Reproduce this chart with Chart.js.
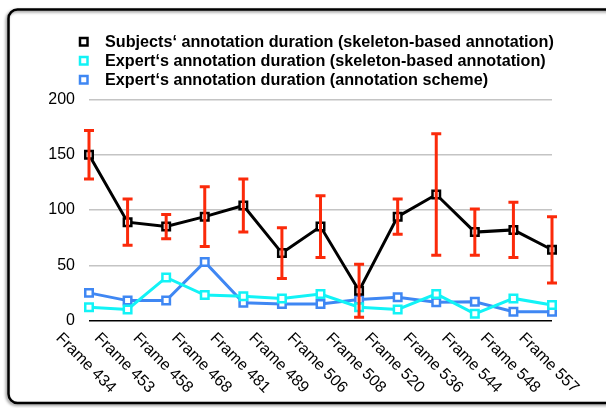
<!DOCTYPE html>
<html>
<head>
<meta charset="utf-8">
<script src="https://cdn.jsdelivr.net/npm/chart.js@4/dist/chart.umd.min.js"></script>
<style>
html,body{margin:0;padding:0;background:#fff;}
#wrap{position:relative;width:606px;height:408px;}
</style>
</head>
<body>
<div id="wrap"><canvas id="c" width="606" height="408"></canvas></div>
<script>
const categories = ["Frame 434","Frame 453","Frame 458","Frame 468","Frame 481","Frame 489","Frame 506","Frame 508","Frame 520","Frame 536","Frame 544","Frame 548","Frame 557"];
const subjectsDuration = [150, 89, 85, 94, 104, 61, 85, 27, 94, 114, 80, 82, 64];
const subjectsSd = [22, 21, 11, 27, 24, 23, 28, 24, 16, 55, 21, 25, 30];
const expertSkeleton = [12, 10, 39, 23, 22, 20, 24, 12, 10, 24, 6, 20, 14];
const expertScheme = [25, 18, 18, 53, 16, 15, 15, 19, 21, 16.5, 17, 8, 8];
const yTicks = [0, 50, 100, 150, 200];
const seriesNames = [
  "Subjects\u2018 annotation duration (skeleton-based annotation)",
  "Expert\u2018s annotation duration (skeleton-based annotation)",
  "Expert\u2018s annotation duration (annotation scheme)"
];

const FONT = "'Liberation Sans', Arial, Helvetica, sans-serif";

const framePlugin = {
  id: 'frame',
  beforeDraw(chart) {
    const ctx = chart.ctx;
    ctx.save();
    ctx.fillStyle = '#fff';
    ctx.fillRect(0, 0, chart.width, chart.height);
    ctx.shadowColor = 'rgba(0,0,0,0.45)';
    ctx.shadowBlur = 3;
    ctx.shadowOffsetX = -1.5;
    ctx.shadowOffsetY = 1.5;
    ctx.lineWidth = 2.5;
    ctx.strokeStyle = '#000';
    ctx.beginPath();
    ctx.roundRect(8.5, 9.5, 700, 393.5, 9);
    ctx.stroke();
    ctx.restore();
  }
};

const errorBarPlugin = {
  id: 'errbars',
  afterDatasetsDraw(chart) {
    const ctx = chart.ctx;
    const x = chart.scales.x, y = chart.scales.y;
    ctx.save();
    ctx.strokeStyle = '#fb2a0a';
    ctx.lineWidth = 3;
    subjectsDuration.forEach((v, i) => {
      const px = x.getPixelForValue(i);
      const top = y.getPixelForValue(v + subjectsSd[i]);
      const bot = y.getPixelForValue(v - subjectsSd[i]);
      ctx.beginPath();
      ctx.moveTo(px, top); ctx.lineTo(px, bot);
      ctx.moveTo(px - 5, top); ctx.lineTo(px + 5, top);
      ctx.moveTo(px - 5, bot); ctx.lineTo(px + 5, bot);
      ctx.stroke();
    });
    ctx.restore();
  }
};

const labelsPlugin = {
  id: 'xlabels',
  afterDraw(chart) {
    const ctx = chart.ctx;
    const x = chart.scales.x;
    ctx.save();
    ctx.fillStyle = '#000';
    ctx.font = '16px ' + FONT;
    ctx.textAlign = 'left';
    ctx.textBaseline = 'top';
    categories.forEach((lab, i) => {
      const px = x.getPixelForValue(i);
      ctx.save();
      ctx.translate(px - 25, 330);
      ctx.rotate(Math.PI / 4);
      ctx.fillText(lab, 0, 0);
      ctx.restore();
    });
    ctx.restore();
  }
};

const legendPlugin = {
  id: 'customLegend',
  afterDraw(chart) {
    const ctx = chart.ctx;
    ctx.save();
    ctx.font = 'bold 16.2px ' + FONT;
    ctx.textBaseline = 'middle';
    ctx.textAlign = 'left';
    chart.data.datasets.forEach((ds, i) => {
      const cy = 41.5 + i * 19;
      ctx.lineWidth = 2.5;
      ctx.strokeStyle = ds.borderColor;
      ctx.fillStyle = '#fff';
      ctx.beginPath();
      ctx.rect(80, cy - 3.5, 7.5, 7.5);
      ctx.fill();
      ctx.stroke();
      ctx.fillStyle = '#000';
      ctx.fillText(ds.label, 105, cy + 1);
    });
    ctx.restore();
  }
};

new Chart(document.getElementById('c'), {
  type: 'line',
  data: {
    labels: categories,
    datasets: [
      {
        label: seriesNames[0],
        data: subjectsDuration,
        borderColor: '#000000',
        backgroundColor: '#ffffff',
        borderWidth: 3,
        pointStyle: 'rect',
        pointRadius: 5.3,
        pointBorderWidth: 2.5,
        pointBackgroundColor: '#ffffff',
        pointBorderColor: '#000000',
        tension: 0
      },
      {
        label: seriesNames[1],
        data: expertSkeleton,
        borderColor: '#12f3f6',
        backgroundColor: '#ffffff',
        borderWidth: 3,
        pointStyle: 'rect',
        pointRadius: 5.3,
        pointBorderWidth: 2.5,
        pointBackgroundColor: '#ffffff',
        pointBorderColor: '#12f3f6',
        tension: 0
      },
      {
        label: seriesNames[2],
        data: expertScheme,
        borderColor: '#3f87f3',
        backgroundColor: '#ffffff',
        borderWidth: 3,
        pointStyle: 'rect',
        pointRadius: 5.3,
        pointBorderWidth: 2.5,
        pointBackgroundColor: '#ffffff',
        pointBorderColor: '#3f87f3',
        tension: 0
      }
    ]
  },
  options: {
    responsive: false,
    animation: false,
    devicePixelRatio: 1,
    layout: { padding: { left: 0, right: 54, top: 99.5, bottom: 87.5 } },
    plugins: {
      legend: { display: false },
      tooltip: { enabled: false }
    },
    scales: {
      x: {
        type: 'category',
        offset: false,
        display: false
      },
      y: {
        min: 0,
        max: 200,
        afterBuildTicks(scale) { scale.ticks = yTicks.map(v => ({ value: v })); },
        afterFit(scale) { scale.width = 89; },
        border: { display: false },
        grid: {
          drawTicks: false,
          lineWidth: 1.5,
          color: (c) => c.tick && c.tick.value === 0 ? '#000000' : '#c4c4c4'
        },
        ticks: {
          padding: 14,
          color: '#000',
          font: { family: FONT, size: 16 }
        }
      }
    }
  },
  plugins: [framePlugin, errorBarPlugin, labelsPlugin, legendPlugin]
});
</script>
</body>
</html>
